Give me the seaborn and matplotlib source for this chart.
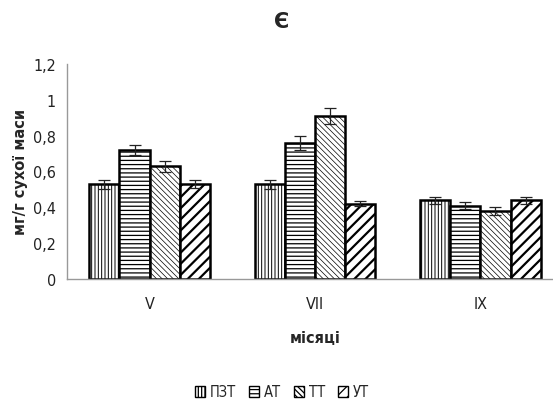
import matplotlib
matplotlib.use("Agg")
import matplotlib.pyplot as plt
import matplotlib.ticker as mticker
from matplotlib import font_manager
import seaborn as sns
import pandas as pd
import numpy as np

# Data
months = ["V", "VII", "IX"]
groups = ["ПЗТ", "АТ", "ТТ", "УТ"]
values = {
    "ПЗТ": [0.53, 0.53, 0.44],
    "АТ":  [0.72, 0.76, 0.41],
    "ТТ":  [0.63, 0.91, 0.38],
    "УТ":  [0.53, 0.42, 0.44],
}
errors = {
    "ПЗТ": [0.025, 0.025, 0.02],
    "АТ":  [0.03, 0.04, 0.02],
    "ТТ":  [0.03, 0.045, 0.02],
    "УТ":  [0.02, 0.015, 0.02],
}
hatches = {"ПЗТ": "|||||", "АТ": "----", "ТТ": "\\\\\\\\\\\\", "УТ": "///"}
hatch_lw = {"ПЗТ": 0.7, "АТ": 0.9, "ТТ": 0.5, "УТ": 1.6}

rows = []
for g in groups:
    for m, v in zip(months, values[g]):
        rows.append({"місяці": m, "група": g, "значення": v})
df = pd.DataFrame(rows)

sns.set_theme(style="white")
installed = {f.name for f in font_manager.fontManager.ttflist}
narrow = [f for f in ["Liberation Sans Narrow", "DejaVu Sans"] if f in installed]
plt.rcParams["font.family"] = narrow + ["DejaVu Sans"]
plt.rcParams["font.stretch"] = "condensed"
plt.rcParams["hatch.linewidth"] = 0.9

fig = plt.figure(figsize=(5.53, 4.10), dpi=100)
ax = fig.add_axes([67 / 553, 130 / 410, 496 / 553, 215 / 410])

sns.barplot(data=df, x="місяці", y="значення", hue="група", order=months,
            hue_order=groups, color="white", width=0.73, ax=ax,
            errorbar=None, legend=True, saturation=1)

# hatch styling and error bars per series
for container, g in zip(ax.containers, groups):
    xs = []
    for patch in container:
        patch.set_facecolor("white")
        patch.set_edgecolor("black")
        patch.set_linewidth(1.8)
        patch.set_hatch(hatches[g])
        if hasattr(patch, "set_hatch_linewidth"):
            patch.set_hatch_linewidth(hatch_lw[g])
        xs.append(patch.get_x() + patch.get_width() / 2)
    ax.errorbar(xs, values[g], yerr=errors[g], fmt="none", ecolor="#222222",
                elinewidth=0.9, capsize=4, capthick=0.9, zorder=5)

ax.set_ylim(0, 1.2)
ax.set_xlim(-0.5, 2.5)
ax.yaxis.set_major_locator(mticker.MultipleLocator(0.2))
ax.yaxis.set_major_formatter(mticker.FuncFormatter(
    lambda v, p: ("%g" % round(v, 2)).replace(".", ",")))
ax.tick_params(axis="both", length=0, labelsize=11.5, colors="#222222", pad=8)
ax.tick_params(axis="x", pad=12)

for s in ["top", "right"]:
    ax.spines[s].set_visible(False)
for s in ["left", "bottom"]:
    ax.spines[s].set_color("#999999")
    ax.spines[s].set_linewidth(1.0)

ax.set_xlabel("місяці", fontsize=10.5, fontweight="bold", family=["DejaVu Sans"],
              fontstretch="normal", labelpad=14)
ax.set_ylabel("мг/г сухої маси", fontsize=10.5, fontweight="bold", family=["DejaVu Sans"],
              fontstretch="normal")
ax.yaxis.set_label_coords(28 / 553, 0.5, transform=fig.transFigure)
ax.yaxis.label.set_y(1 - 172 / 410)
fig.text(282 / 553, 1 - 22 / 410, "Є", ha="center", va="center",
         fontsize=15, fontweight="bold", family=["DejaVu Sans"], fontstretch="normal")

handles, labels = ax.get_legend_handles_labels()
for h, g in zip(handles, groups):
    h.set_facecolor("white")
    h.set_edgecolor("black")
    h.set_hatch(hatches[g])
ax.legend(handles, labels, loc="center", bbox_to_anchor=(282 / 553, 1 - 393 / 410),
          bbox_transform=fig.transFigure, ncol=4, frameon=False, fontsize=10.5,
          handlelength=0.7, handleheight=0.7, handletextpad=0.3, columnspacing=0.9)

fig.savefig("out.png", dpi=100)
